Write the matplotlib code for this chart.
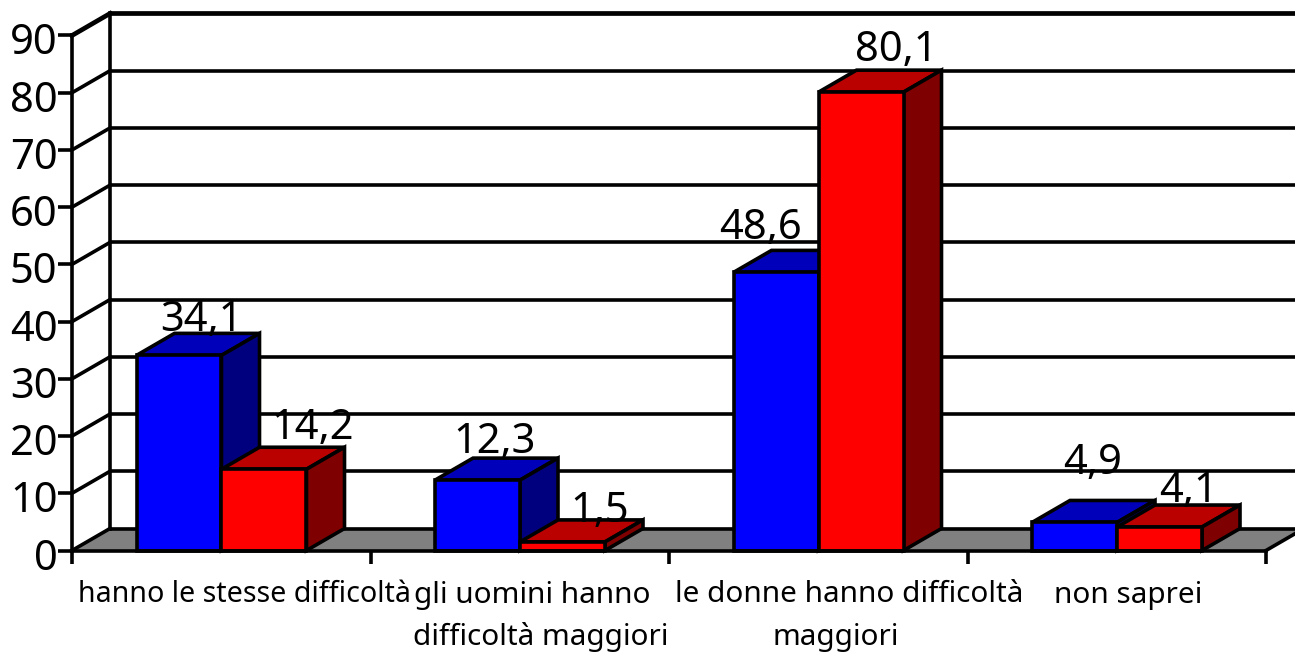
import matplotlib
matplotlib.use("Agg")
import matplotlib.pyplot as plt
from matplotlib.transforms import ScaledTranslation

plt.rcParams['font.family'] = ['Noto Sans', 'DejaVu Sans']

# values from the chart
series_blue = [34.1, 12.3, 48.6, 4.9]
series_red = [14.2, 1.5, 80.1, 4.1]
label_blue = ["34,1", "12,3", "48,6", "4,9"]
label_red = ["14,2", "1,5", "80,1", "4,1"]
y_ticks = list(range(0, 100, 10))

# category text, one line at a time: (category index, line number, text, x shift in px, font size)
cat_lines = [
    (0, 0, "hanno le stesse difficoltà", 23, 20.6),
    (1, 0, "gli uomini hanno", 12, 21.4),
    (1, 1, "difficoltà maggiori", 21, 21.4),
    (2, 0, "le donne hanno difficoltà", 31, 21.4),
    (2, 1, "maggiori", 17, 21.4),
    (3, 0, "non saprei", 11, 21.4),
]

# hand placed data labels, px from the bar's top centre to the text baseline
offs_blue = [(22, 24), (17, 27), (-15, 33), (18, 48)]
offs_red = [(49, 30), (37, 20), (35, 31), (29, 25)]

W, H = 1295, 653
PX_CAT = 298.5
PX_VAL = 515 / 90
X0, Y0 = 72, 550.5

fig = plt.figure(figsize=(W / 100, H / 100), dpi=100)
ax = fig.add_axes([X0 / W, (H - Y0) / H, (W - X0) / W, 515 / H])
xmax = (W - X0) / PX_CAT
ax.set_xlim(0, xmax)
ax.set_ylim(0, 90)

LW = 2.6
dx = 38 / PX_CAT
dy = 22 / PX_VAL
bar_w = 85 / PX_CAT
start = 64.5 / PX_CAT
n = len(series_blue)

# floor
ax.fill([0, dx, n + dx, n], [0, dy, dy, 0], color="#808080", zorder=1, clip_on=False)

# back wall and left wall lines
for v in y_ticks:
    lw = 3.4 if v == 90 else LW
    ax.plot([dx, xmax], [v + dy, v + dy], color="k", lw=lw, zorder=2, clip_on=False,
            solid_capstyle="butt")
    ax.plot([0, dx], [v, v + dy], color="k", lw=lw, zorder=2, clip_on=False)
ax.plot([dx, dx], [dy, 90 + dy], color="k", lw=LW, zorder=2, clip_on=False)
ax.plot([n, n + dx], [0, dy], color="k", lw=LW, zorder=2, clip_on=False)


def draw_bar(x, v, front, top, side, z):
    ax.bar(x, v, width=bar_w, align="edge", color=front, edgecolor="k", lw=LW,
           zorder=z + 0.2, clip_on=False)
    ax.fill([x, x + dx, x + bar_w + dx, x + bar_w], [v, v + dy, v + dy, v],
            facecolor=top, edgecolor="k", lw=LW, zorder=z, clip_on=False)
    ax.fill([x + bar_w, x + bar_w + dx, x + bar_w + dx, x + bar_w],
            [0, dy, v + dy, v], facecolor=side, edgecolor="k", lw=LW, zorder=z,
            clip_on=False)


for i in range(n):
    xb = i + start
    xr = xb + bar_w
    draw_bar(xb, series_blue[i], "#0000FF", "#0000BB", "#00007F", 3 + i * 2)
    draw_bar(xr, series_red[i], "#FF0000", "#BB0000", "#7F0000", 4 + i * 2)
    ax.annotate(label_blue[i], (xb + bar_w / 2, series_blue[i]),
                xytext=(offs_blue[i][0] * 0.72, offs_blue[i][1] * 0.72),
                textcoords="offset points", ha="center", va="baseline",
                fontsize=30, zorder=20, annotation_clip=False)
    ax.annotate(label_red[i], (xr + bar_w / 2, series_red[i]),
                xytext=(offs_red[i][0] * 0.72, offs_red[i][1] * 0.72),
                textcoords="offset points", ha="center", va="baseline",
                fontsize=30, zorder=20, annotation_clip=False)

# axes
for s in ["top", "right"]:
    ax.spines[s].set_visible(False)
for s in ["left", "bottom"]:
    ax.spines[s].set_linewidth(LW)
    ax.spines[s].set_zorder(15)
ax.spines["bottom"].set_bounds(0, n)
ax.set_yticks(y_ticks)
ax.set_xticks(range(n + 1))
ax.set_xticklabels([])
ax.tick_params(axis="y", length=10, width=LW, labelsize=30, pad=2)
ax.tick_params(axis="x", length=9.5, width=LW)
# y labels sit a little lower and closer in the original
shift = ScaledTranslation(2 / 100, -3 / 100, fig.dpi_scale_trans)
for t in ax.get_yticklabels():
    t.set_transform(t.get_transform() + shift)

# category labels
for i, line, txt, sh, fs in cat_lines:
    ax.annotate(txt, (i + 0.5, 0), xytext=(sh * 0.72, (-52 - line * 43) * 0.72),
                textcoords="offset points", ha="center", va="baseline",
                fontsize=fs, annotation_clip=False)

fig.savefig("out.png", dpi=100)
